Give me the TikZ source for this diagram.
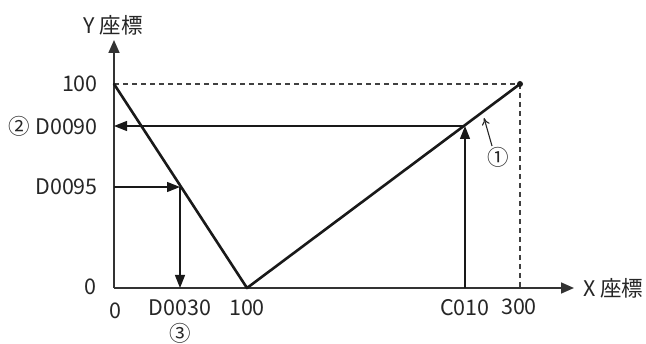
\documentclass[tikz,border=0pt]{standalone}
\usepackage{fontspec}
\setmainfont{Noto Sans CJK JP}
\usetikzlibrary{arrows.meta}
\begin{document}
\begin{tikzpicture}[x=1pt,y=-1pt,
  lbl/.style={font=\fontsize{21.5}{24}\selectfont, inner sep=0pt, text=black!85},
  axis/.style={line width=1.6pt, draw=black!80, -{Triangle[length=13pt,width=11pt]}},
  graph/.style={line width=2.6pt, draw=black!90, line cap=round, line join=round},
  guide/.style={line width=1.3pt, draw=black!90, -{Triangle[length=13pt,width=10pt]}},
  dashedline/.style={line width=1.1pt, draw=black!75, dash pattern=on 5pt off 4pt},
  note/.style={line width=1.1pt, draw=black!85, -{To[length=7pt,width=8pt]}}]
\useasboundingbox (0,0) rectangle (646,344);
\coordinate (O) at (114,288);
\coordinate (Yt) at (114,40);
\coordinate (Xt) at (574,288);
\coordinate (P) at (114,84);
\coordinate (V) at (247,288);
\coordinate (T) at (520,84);
\coordinate (Tb) at (520,288);
\coordinate (Y90) at (114,126);
\coordinate (C) at (465,126);
\coordinate (Cb) at (465,288);
\coordinate (Y95) at (114,187);
\coordinate (D) at (180,187);
\coordinate (Db) at (180,288);
\coordinate (N1) at (492,146);
\coordinate (N2) at (484,118);
% dashed guides
\draw[dashedline] (P) -- (T);
\draw[dashedline] (T) -- (Tb);
% axes
\draw[axis] (O) -- (Yt);
\draw[axis] (O) -- (Xt);
% graph
\draw[graph] (P) -- (V) -- (T);
\fill[black!90] (T) circle (3pt);
% guide arrows
\draw[guide] (Cb) -- (C);
\draw[guide] (C) -- (Y90);
\draw[guide] (Y95) -- (D);
\draw[guide] (D) -- (Db);
\draw[note] (N1) -- (N2);
% labels
\node[lbl] (ylab) at (113,25) {Y 座標};
\node[lbl, anchor=west] (xlab) at (583,288) {X 座標};
\node[lbl, anchor=east] (l100) at (98,84) {100};
\node[lbl, anchor=east] (l90) at (98,126) {② D0090};
\node[lbl, anchor=east] (l95) at (98,187) {D0095};
\node[lbl] (l0y) at (90,287) {0};
\node[lbl] (l0x) at (115,311) {0};
\node[lbl] (l30) at (180,308) {D0030};
\node[lbl] (c3) at (180,333) {③};
\node[lbl] (x100) at (247,308) {100};
\node[lbl] (c010) at (465,308) {C010};
\node[lbl] (x300) at (519,307) {300};
\node[lbl] (c1) at (498,157) {①};
\end{tikzpicture}
\end{document}
